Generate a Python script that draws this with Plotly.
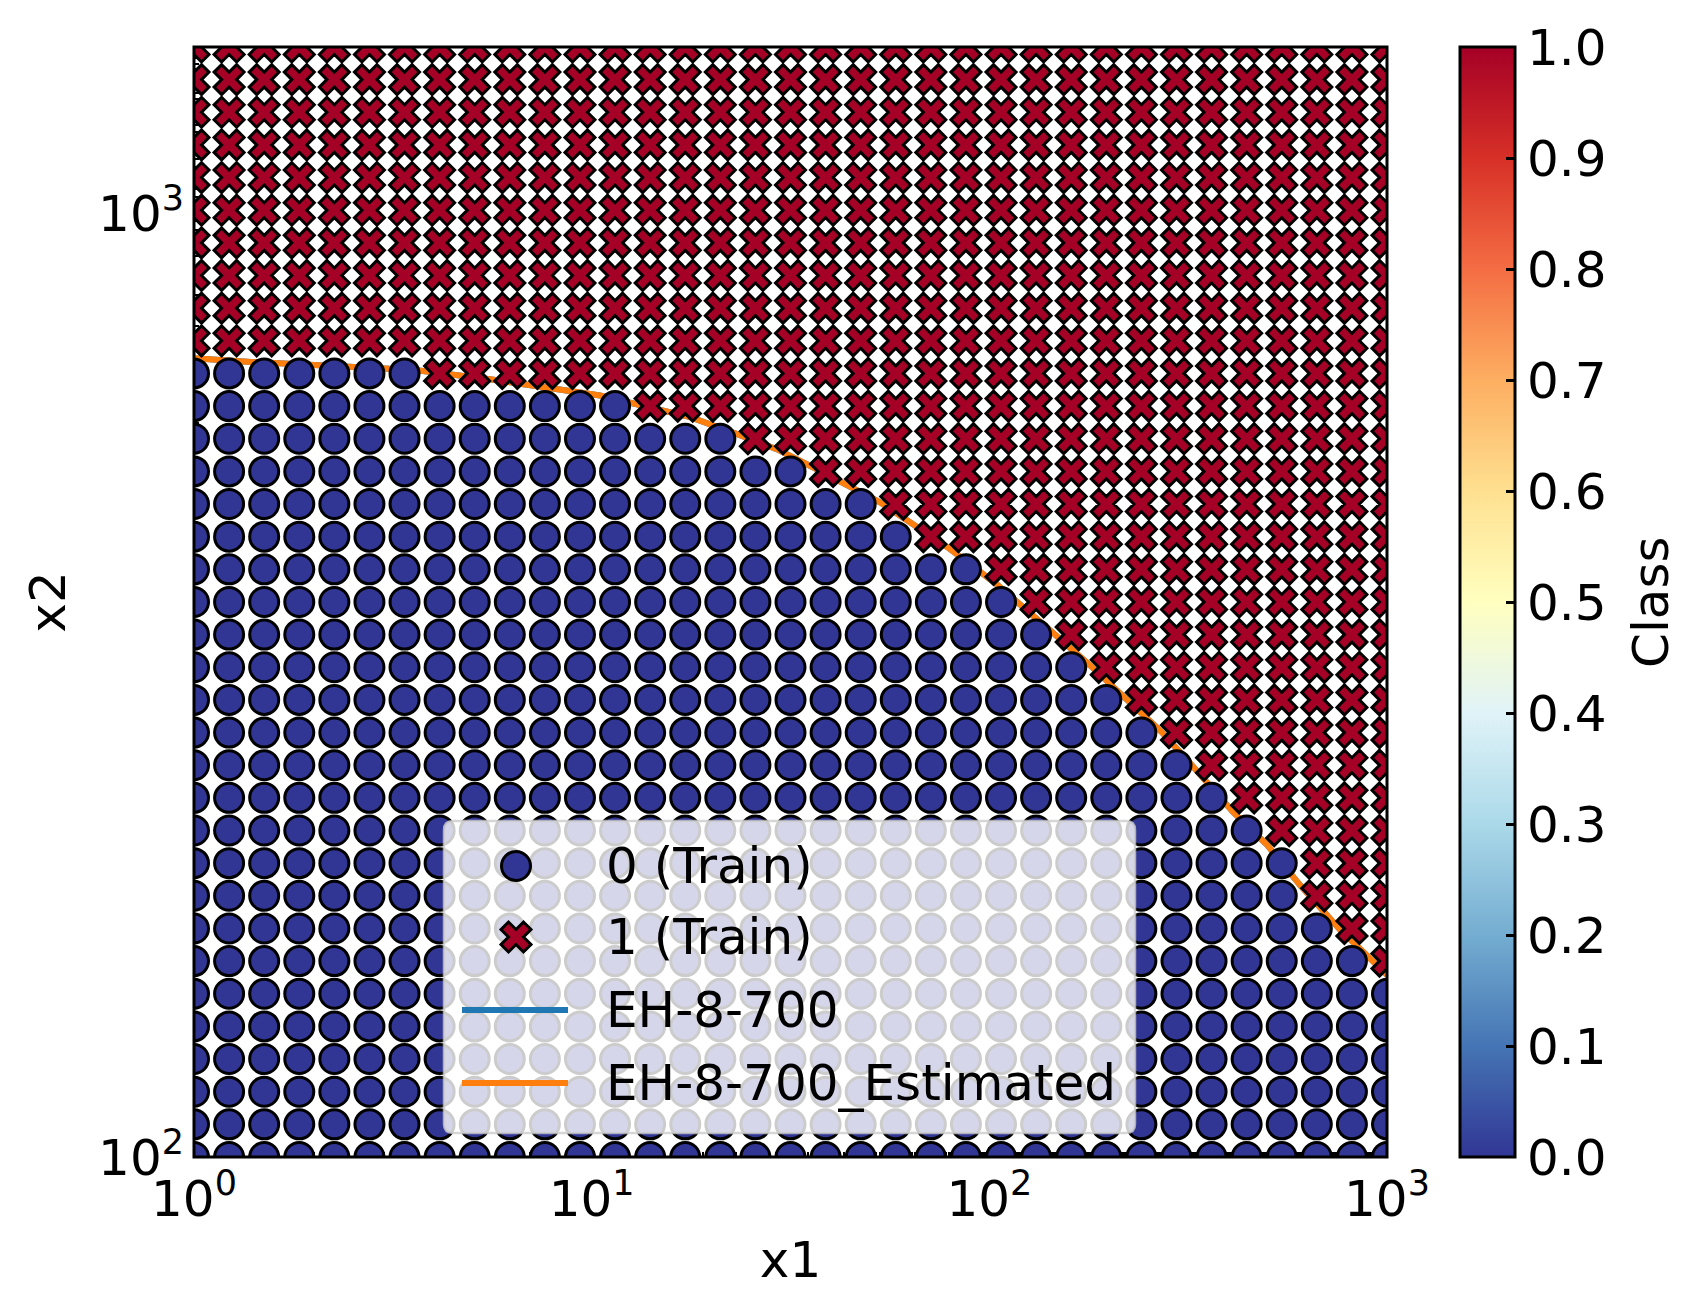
import plotly.graph_objects as go

# ---------------- data ----------------
# grid of training points (x1 columns, x2 rows), log-spaced
x1_grid = [1.0, 1.22528, 1.50131, 1.83953, 2.25393, 2.7617, 3.38386, 4.14616, 5.08021,
           6.22468, 7.62699, 9.3452, 11.4505, 14.03, 17.1907, 21.0634, 25.8086, 31.6228,
           38.7468, 47.4756, 58.1709, 71.2756, 87.3326, 107.006, 131.113, 160.65, 196.841,
           241.185, 295.518, 362.092, 443.663, 543.61, 666.073, 816.124, 1000.0]
x2_grid = [100.0, 108.291, 117.27, 126.993, 137.522, 148.924, 161.271, 174.643, 189.123,
           204.803, 221.783, 240.171, 260.083, 281.647, 304.998, 330.285, 357.669, 387.323,
           419.436, 454.211, 491.869, 532.65, 576.812, 624.636, 676.425, 732.507, 793.238,
           859.005, 930.224, 1007.35, 1090.87, 1181.31, 1279.25, 1385.31, 1500.0]
# number of class-0 points (counted from the bottom) in each x1 column; rest are class 1
class0_count = [25, 25, 25, 25, 25, 25, 25, 24, 24, 24, 24, 24, 24, 23, 23, 23, 22, 22,
                21, 21, 20, 19, 19, 18, 17, 16, 15, 14, 13, 12, 11, 10, 8, 7, 6]

# decision boundaries
eh_x1 = [1.0, 1.36, 3.59, 5.55, 10.5, 12.7, 17.7, 23.6, 29.3, 36.0, 53.1, 78.3, 104.6,
         144.7, 179, 222, 269, 326, 410, 500, 605, 763, 1000]
eh_x2 = [702, 696, 682, 667, 641, 628, 608, 582, 562, 538, 494, 443, 404,
         359, 332, 305, 283, 259, 232, 214, 194, 174, 156]
est_x1 = [1.0, 1.36, 3.59, 5.55, 10.5, 12.7, 17.7, 23.6, 29.3, 36.0, 53.1, 78.3, 104.6,
          144.7, 179, 222, 269, 326, 410, 500, 605, 763, 1000]
est_x2 = [702, 696, 682, 667, 641, 628, 608, 582, 562, 538, 494, 443, 404,
          359, 332, 305, 283, 259, 232, 214, 194, 174, 156]

legend_labels = ["0 (Train)", "1 (Train)", "EH-8-700", "EH-8-700_Estimated"]
x_tickvals = [1, 10, 100, 1000]
x_ticktext = ["10<sup>0</sup>", "10<sup>1</sup>", "10<sup>2</sup>", "10<sup>3</sup>"]
y_tickvals = [100, 1000]
y_ticktext = ["10<sup>2</sup>", "10<sup>3</sup>"]
cbar_ticks = [0.0, 0.1, 0.2, 0.3, 0.4, 0.5, 0.6, 0.7, 0.8, 0.9, 1.0]

# ---------------- build ----------------
c0x, c0y, c1x, c1y = [], [], [], []
for i, xv in enumerate(x1_grid):
    for j, yv in enumerate(x2_grid):
        if j < class0_count[i]:
            c0x.append(xv); c0y.append(yv)
        else:
            c1x.append(xv); c1y.append(yv)

RDYLBU_R = [
    [0.0, "#313695"], [0.1, "#4575b4"], [0.2, "#74add1"], [0.3, "#abd9e9"],
    [0.4, "#e0f3f8"], [0.5, "#ffffbf"], [0.6, "#fee090"], [0.7, "#fdae61"],
    [0.8, "#f46d43"], [0.9, "#d73027"], [1.0, "#a50026"],
]
FONT = "DejaVu Sans"
FS = 50
BLUE0 = "#313695"
RED1 = "#a50026"

W, H = 1703, 1316
ML, MR, MT, MB = 194, 316, 47, 159
PW = W - ML - MR
PH = H - MT - MB

fig = go.Figure()
fig.add_trace(go.Scatter(x=eh_x1, y=eh_x2, mode="lines", name=legend_labels[2],
                         line=dict(color="#1f77b4", width=6), showlegend=False))
fig.add_trace(go.Scatter(x=est_x1, y=est_x2, mode="lines", name=legend_labels[3],
                         line=dict(color="#ff7f0e", width=6), showlegend=False))
fig.add_trace(go.Scatter(x=c1x, y=c1y, mode="markers", name=legend_labels[1], showlegend=False,
                         marker=dict(symbol="x", size=26.5, color=[1] * len(c1x),
                                     coloraxis="coloraxis", line=dict(color="black", width=3))))
fig.add_trace(go.Scatter(x=c0x, y=c0y, mode="markers", name=legend_labels[0], showlegend=False,
                         marker=dict(symbol="circle", size=29, color=[0] * len(c0x),
                                     coloraxis="coloraxis", line=dict(color="black", width=3))))


def px2paper(px, py):
    return (px - ML) / PW, (H - MB - py) / PH


shapes = []
# plot frame
shapes.append(dict(type="rect", xref="paper", yref="paper", x0=0, y0=0, x1=1, y1=1,
                   line=dict(color="black", width=3), layer="above"))
# legend box (rounded)
bx0, by1 = px2paper(444, 821)
bx1, by0 = px2paper(1135, 1133)
rx, ry = 9 / PW, 9 / PH
box_path = (f"M{bx0+rx},{by0} L{bx1-rx},{by0} Q{bx1},{by0} {bx1},{by0+ry} "
            f"L{bx1},{by1-ry} Q{bx1},{by1} {bx1-rx},{by1} L{bx0+rx},{by1} "
            f"Q{bx0},{by1} {bx0},{by1-ry} L{bx0},{by0+ry} Q{bx0},{by0} {bx0+rx},{by0} Z")
shapes.append(dict(type="path", xref="paper", yref="paper", path=box_path,
                   fillcolor="rgba(255,255,255,0.8)", line=dict(color="rgba(204,204,204,0.8)", width=2.5),
                   layer="above"))
row_py = [866, 937, 1010, 1083]
sym_px = 516
# circle symbol
cx, cy = px2paper(sym_px, row_py[0])
r = 14.5
shapes.append(dict(type="circle", xref="paper", yref="paper",
                   x0=cx - r / PW, x1=cx + r / PW, y0=cy - r / PH, y1=cy + r / PH,
                   fillcolor=BLUE0, line=dict(color="black", width=3), layer="above"))
# X symbol
cx, cy = px2paper(sym_px, row_py[1])
s = 30
rel = [(-0.25, -0.5), (0, -0.25), (0.25, -0.5), (0.5, -0.25), (0.25, 0), (0.5, 0.25),
       (0.25, 0.5), (0, 0.25), (-0.25, 0.5), (-0.5, 0.25), (-0.25, 0), (-0.5, -0.25)]
pts = [(cx + a * s / PW, cy + b * s / PH) for a, b in rel]
xpath = "M" + " L".join(f"{a},{b}" for a, b in pts) + " Z"
shapes.append(dict(type="path", xref="paper", yref="paper", path=xpath,
                   fillcolor=RED1, line=dict(color="black", width=3), layer="above"))
# line symbols
for k, col in [(2, "#1f77b4"), (3, "#ff7f0e")]:
    lx0, ly = px2paper(462, row_py[k])
    lx1, _ = px2paper(568, row_py[k])
    shapes.append(dict(type="line", xref="paper", yref="paper", x0=lx0, x1=lx1, y0=ly, y1=ly,
                       line=dict(color=col, width=6), layer="above"))

annotations = []
for k, lab in enumerate(legend_labels):
    ax_, ay_ = px2paper(604, row_py[k])
    annotations.append(dict(xref="paper", yref="paper", x=ax_, y=ay_, text=lab, showarrow=False,
                            xanchor="left", yanchor="middle",
                            font=dict(family=FONT, size=FS, color="black")))
# colorbar label
cbx, _ = px2paper(1651, 0)
annotations.append(dict(xref="paper", yref="paper", x=cbx, y=0.5, text="Class", showarrow=False,
                        textangle=-90, xanchor="center", yanchor="middle",
                        font=dict(family=FONT, size=FS, color="black")))

fig.update_layout(
    width=W, height=H,
    margin=dict(l=ML, r=MR, t=MT, b=MB, pad=0),
    paper_bgcolor="white", plot_bgcolor="white",
    font=dict(family=FONT, size=FS, color="black"),
    showlegend=False,
    shapes=shapes,
    annotations=annotations,
    coloraxis=dict(
        cmin=0, cmax=1, colorscale=RDYLBU_R,
        colorbar=dict(
            x=(1460 - ML) / PW, xanchor="left", xpad=0,
            y=0.5, yanchor="middle", ypad=0, len=1, lenmode="fraction",
            thickness=55, outlinecolor="black", outlinewidth=3,
            tickvals=cbar_ticks, tickformat=".1f",
            ticks="inside", ticklen=10, tickwidth=2.5, tickcolor="black",
            tickfont=dict(family=FONT, size=FS, color="black"),
        ),
    ),
    xaxis=dict(
        type="log", range=[0, 3],
        title=dict(text="x1", standoff=14, font=dict(family=FONT, size=FS, color="black")),
        tickvals=x_tickvals, ticktext=x_ticktext, ticklabelstandoff=8,
        tickfont=dict(family=FONT, size=FS, color="black"),
        ticks="inside", ticklen=10, tickwidth=2.5, tickcolor="black",
        minor=dict(ticks="inside", ticklen=5, tickwidth=2, tickcolor="black", showgrid=False),
        showgrid=False, zeroline=False, showline=False, layer="below traces",
        automargin=False,
    ),
    yaxis=dict(
        type="log", range=[2, 3.176091],
        title=dict(text="x2", standoff=16, font=dict(family=FONT, size=FS, color="black")),
        tickvals=y_tickvals, ticktext=y_ticktext, ticklabelstandoff=9,
        tickfont=dict(family=FONT, size=FS, color="black"),
        ticks="inside", ticklen=10, tickwidth=2.5, tickcolor="black",
        minor=dict(ticks="inside", ticklen=5, tickwidth=2, tickcolor="black", showgrid=False),
        showgrid=False, zeroline=False, showline=False, layer="below traces",
        automargin=False,
    ),
)

fig.write_html("out.html")
